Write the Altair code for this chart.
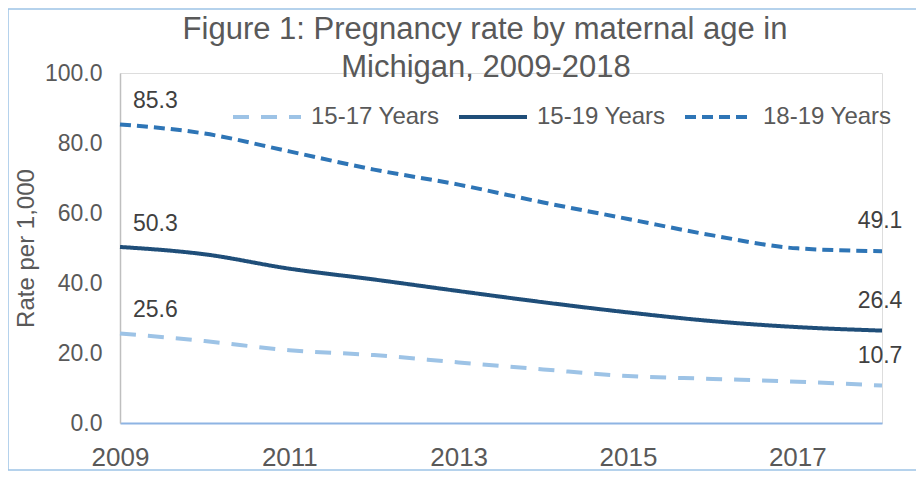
import altair as alt
import pandas as pd

years = list(range(2009, 2019))
s1517 = [25.6, 23.4, 20.8, 19.4, 17.3, 15.3, 13.4, 12.6, 11.8, 10.7]
s1519 = [50.3, 48.2, 44.1, 41.0, 37.7, 34.5, 31.6, 29.1, 27.4, 26.4]
s1819 = [85.3, 82.7, 77.6, 72.4, 68.1, 63.0, 58.3, 53.6, 49.9, 49.1]
series = ["15-17 Years", "15-19 Years", "18-19 Years"]
colors = ["#9DC3E6", "#1F4E79", "#2E75B6"]
dashes = [[16, 12], [1, 0], [11, 6]]
x_ticks = [2009, 2011, 2013, 2015, 2017]
y_ticks = [0, 20, 40, 60, 80, 100]
title_lines = ["Figure 1: Pregnancy rate by maternal age in", "Michigan, 2009-2018"]

rows = []
for name, vals in zip(series, [s1517, s1519, s1819]):
    for i, (yr, v) in enumerate(zip(years, vals)):
        rows.append({"year": yr, "rate": v, "group": name,
                     "pos": "start" if i == 0 else ("end" if i == len(years) - 1 else "mid")})
df = pd.DataFrame(rows)

FONT = "Liberation Sans"
GREY = "#595959"

x = alt.X("year:Q", scale=alt.Scale(domain=[2009, 2018], nice=False, zero=False),
          axis=alt.Axis(values=x_ticks, format="d", title=None, grid=False, ticks=False,
                        domainColor="#8EB4E3", domainWidth=2, labelFontSize=26,
                        labelColor=GREY, labelPadding=21, labelFont=FONT,
                        labelFlush=False, labelOverlap=False))
y = alt.Y("rate:Q", scale=alt.Scale(domain=[0, 100], nice=False),
          axis=alt.Axis(values=y_ticks, format=".1f", title="Rate per 1,000", grid=False,
                        ticks=False, domainColor="#BFBFBF", domainWidth=1.5,
                        labelFontSize=23, labelColor=GREY, labelPadding=18,
                        labelFont=FONT, titleFont=FONT, titleFontSize=24,
                        titleFontWeight="normal", titleColor=GREY, titlePadding=6))

color = alt.Color("group:N", scale=alt.Scale(domain=series, range=colors),
                  legend=alt.Legend(title=None, orient="none", legendX=111, legendY=8,
                                    direction="horizontal", symbolType="stroke",
                                    symbolSize=4624, symbolStrokeWidth=4,
                                    labelFontSize=24, labelColor=GREY, labelFont=FONT,
                                    labelOffset=8, columnPadding=11))
dash = alt.StrokeDash("group:N", scale=alt.Scale(domain=series, range=dashes), legend=None)

lines = alt.Chart(df).mark_line(interpolate="monotone", strokeWidth=4).encode(
    x=x, y=y, color=color, strokeDash=dash)

start_lbl = alt.Chart(df).transform_filter(alt.datum.pos == "start").mark_text(
    align="left", baseline="middle", dx=13, dy=-23, fontSize=23, font=FONT, color="#404040"
).encode(x="year:Q", y="rate:Q", text=alt.Text("rate:Q", format=".1f"))

end_lbl = alt.Chart(df).transform_filter(alt.datum.pos == "end").mark_text(
    align="center", baseline="middle", dx=-2, dy=-30, fontSize=23, font=FONT, color="#404040"
).encode(x="year:Q", y="rate:Q", text=alt.Text("rate:Q", format=".1f"))

one = pd.DataFrame({"a": [0]})
border = alt.Chart(one).mark_rect(
    fill=None, stroke="#9DC3E6", strokeWidth=1.5
).encode(x=alt.value(-112), x2=alt.value(797), y=alt.value(-64), y2=alt.value(397))

title1 = alt.Chart(one).mark_text(
    text=title_lines[0], fontSize=31, font=FONT, color=GREY, align="center",
    baseline="alphabetic").encode(x=alt.value(365), y=alt.value(-34))
title2 = alt.Chart(one).mark_text(
    text=title_lines[1], fontSize=31, font=FONT, color=GREY, align="center",
    baseline="alphabetic").encode(x=alt.value(366), y=alt.value(4))

chart = alt.layer(border, title1, title2, lines, start_lbl, end_lbl).properties(
    width=762, height=350,
    autosize=alt.AutoSizeParams(type="none"),
    padding={"left": 112, "top": 65, "right": 34, "bottom": 49},
).configure_view(stroke=None).configure(background="white")

chart.save("out.html", embed_options={"renderer": "svg", "actions": False})
